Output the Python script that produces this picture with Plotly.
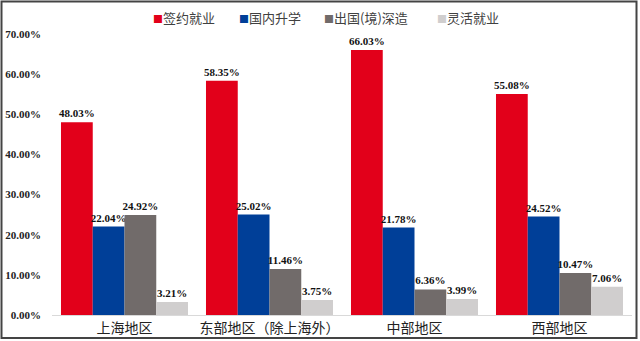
import plotly.graph_objects as go

categories = ["上海地区", "东部地区（除上海外）", "中部地区", "西部地区"]
series_names = ["签约就业", "国内升学", "出国(境)深造", "灵活就业"]
signed = [48.03, 58.35, 66.03, 55.08]
domestic = [22.04, 25.02, 21.78, 24.52]
abroad = [24.92, 11.46, 6.36, 10.47]
flexible = [3.21, 3.75, 3.99, 7.06]
colors = ["#E2001A", "#003F98", "#716B6A", "#D0CECE"]

W, H = 640, 341
L, R, T, B = 52, 8, 34, 26
pw = W - L - R
ph = H - T - B

fig = go.Figure()
for name, vals, c in zip(series_names, [signed, domestic, abroad, flexible], colors):
    fig.add_trace(go.Bar(
        name=name, x=categories, y=vals, marker_color=c,
        marker_line_width=0, showlegend=False,
        text=[f"{v:.2f}%" for v in vals], textposition="outside",
        textfont=dict(family="Liberation Serif", size=11, color="#111", weight="bold"),
        cliponaxis=False,
    ))

# legend drawn as annotations (compact square swatches)
legend_x = [151, 237, 322, 435]
annotations = []
for name, c, xp in zip(series_names, colors, legend_x):
    annotations.append(dict(
        xref="paper", yref="paper", x=(xp - L) / pw, y=1 + (T - 18) / ph,
        xanchor="left", yanchor="middle", showarrow=False,
        text=f"<span style='color:{c};font-size:10px'>■</span>{name}",
        font=dict(family="Noto Sans CJK SC", size=13, color="#404040"),
    ))

fig.update_layout(
    width=W, height=H,
    margin=dict(l=L, r=R, t=T, b=B, autoexpand=False),
    paper_bgcolor="white", plot_bgcolor="white",
    barmode="group", bargap=0.124, bargroupgap=0,
    showlegend=False,
    annotations=annotations,
    uniformtext=dict(minsize=11, mode="show"),
    xaxis=dict(showline=True, linecolor="#D9D9D9", linewidth=1, showgrid=False,
               tickfont=dict(family="Noto Sans CJK SC", size=14, color="#222"),
               ticks=""),
    yaxis=dict(range=[0, 70], dtick=10, tickformat=".2f", ticksuffix="%",
               showgrid=False, zeroline=False, showline=False,
               tickfont=dict(family="Liberation Serif", size=11, color="#222", weight="bold"),
               ticklabelstandoff=10),
    shapes=[dict(type="rect", xref="paper", yref="paper",
                 x0=(-L + 1.5) / pw, x1=1 + (R - 3.5) / pw,
                 y0=(-B + 3) / ph, y1=1 + (T - 1.5) / ph,
                 line=dict(color="#444", width=2), fillcolor="rgba(0,0,0,0)")],
)
fig.write_html("out.html")
